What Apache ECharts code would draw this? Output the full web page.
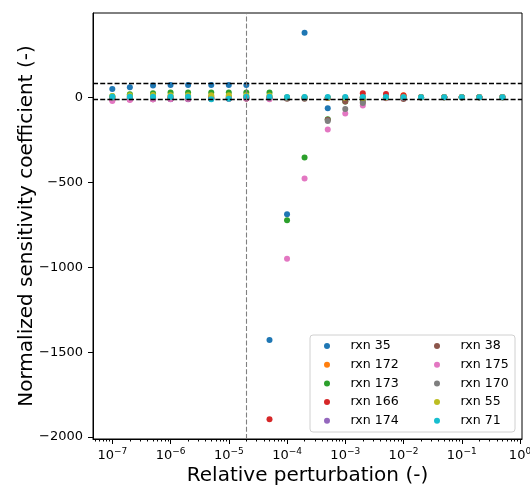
<!DOCTYPE html>
<html lang="en">

<head>
    <title>sensitivity</title>
    <meta http-equiv="content-type" content="text/html; charset=utf-8">
    <script src="https://cdn.jsdelivr.net/npm/echarts@6/dist/echarts.min.js"></script>
</head>

<style>
    * {
        margin: 0;
        padding: 0;
        box-sizing: border-box;
    }

    html,
    body {
        width: 100%;
        height: 100%;
        background: #fff;
    }

    #main {
        width: 530px;
        height: 486px;
    }
</style>

<body>
    <div id="main"></div>
</body>
<script>
    // relative perturbation (x)
    const perturbation = [1e-7, 2e-7, 5e-7, 1e-6, 2e-6, 5e-6, 1e-5, 2e-5, 5e-5, 1e-4, 2e-4,
        5e-4, 1e-3, 2e-3, 5e-3, 1e-2, 2e-2, 5e-2, 1e-1, 2e-1, 5e-1];

    // normalized sensitivity coefficient per reaction
    const rxn35 = [51, 61, 71, 75, 75, 75, 75, 75, -1428, -687, 383, -63, -6, 3, 2, 2, 2, 2, 2, 2, 2];
    const rxn172 = [3, 4, 5, 5, 5, 5, 5, 5, 5, 0, 0, -2, -4, 2, 2, 14, 2, 2, 2, 2, 2];
    const rxn173 = [8, 20, 26, 30, 30, 30, 30, 30, 30, -723, -353, -127, -22, -10, 1, 2, 2, 2, 2, 2, 2];
    const rxn166 = [-12, -10, -9, -8, -8, -6, -6, -5, -1896, -2, -1, 0, 0, 26, 22, 12, 4, 3, 3, 3, 3];
    const rxn174 = [-10, -9, -9, -9, -9, -6, -6, -5, -5, -2, -2, 0, 0, 0, 1, 2, 2, 2, 2, 2, 2];
    const rxn38 = [-5, -5, -5, -5, -5, -5, -5, -5, -5, -6, -6, -130, -23, -25, -2, -8, 1, 2, 2, 2, 2];
    const rxn175 = [-19, -14, -9, -8, -7, -6, -5, -5, -9, -949, -476, -188, -94, -46, -3, 0, 2, 2, 2, 2, 2];
    const rxn170 = [0, 2, 3, 3, 3, 3, 3, 3, 0, -3, -3, -137, -67, -32, 0, 1, 2, 2, 2, 2, 2];
    const rxn55 = [10, 14, 15, 14, 14, 14, 14, 14, 12, 2, 2, 0, 0, -2, 1, 2, 2, 2, 2, 2, 2];
    const rxn71 = [6, 6, 6, 6, 6, -9, -6, 6, 6, 4, 4, 4, 4, 4, 4, 3, 3, 3, 3, 3, 3];

    const names = ['rxn 35', 'rxn 172', 'rxn 173', 'rxn 166', 'rxn 174',
        'rxn 38', 'rxn 175', 'rxn 170', 'rxn 55', 'rxn 71'];
    const values = [rxn35, rxn172, rxn173, rxn166, rxn174, rxn38, rxn175, rxn170, rxn55, rxn71];
    const colors = ['#1f77b4', '#ff7f0e', '#2ca02c', '#d62728', '#9467bd',
        '#8c564b', '#e377c2', '#7f7f7f', '#bcbd22', '#17becf'];

    // axis limits, tick labels, reference lines
    const xMin = 4.66e-8, xMax = 1.0825;
    const yMin = -2012, yMax = 499;
    const xMajorTicks = [1e-7, 1e-6, 1e-5, 1e-4, 1e-3, 1e-2, 1e-1, 1];
    const yTicks = [-2000, -1500, -1000, -500, 0];
    const hLines = [82, -9];
    const vLine = 2e-5;

    const xMinorTicks = [];
    for (let e = -8; e <= 0; e++) {
        for (let m = 2; m <= 9; m++) xMinorTicks.push(m * Math.pow(10, e));
    }

    const font = 'DejaVu Sans';
    const myChart = echarts.init(document.getElementById('main'), null, { renderer: 'canvas' });

    const series = names.map((n, i) => ({
        name: n,
        type: 'scatter',
        symbol: 'circle',
        symbolSize: 6,
        itemStyle: { color: colors[i], opacity: 1 },
        data: perturbation.map((x, j) => [x, values[i][j]])
    }));

    const dash = [5, 2.2];
    series[0].markLine = {
        silent: true,
        symbol: 'none',
        label: { show: false },
        animation: false,
        data: hLines.map(v => ({ yAxis: v, lineStyle: { color: '#000', width: 1.4, type: dash } }))
            .concat([[
                { coord: [vLine, yMin], lineStyle: { color: '#808080', width: 1.1, type: dash } },
                { coord: [vLine, yMax] }
            ]])
    };

    const supFmt = v => {
        const e = Math.round(Math.log10(v));
        return '{b|10}{s|' + (e < 0 ? '\u2212' : '') + Math.abs(e) + '}';
    };

    const legendBase = {
        orient: 'vertical',
        padding: 0,
        itemWidth: 37,
        itemHeight: 6,
        itemGap: 4.7,
        icon: 'circle',
        textStyle: { fontFamily: font, fontSize: 12.6, color: '#000', lineHeight: 14 }
    };

    const option = {
        animation: false,
        color: colors,
        grid: {
            left: 93, right: 8, top: 13, bottom: 47,
            containLabel: false,
            outerBoundsMode: 'none',
            show: true, borderColor: '#000', borderWidth: 1
        },
        graphic: [{
            type: 'rect',
            z: 5,
            shape: { x: 310, y: 335, width: 205, height: 97, r: 3 },
            style: { fill: 'rgba(255,255,255,0.85)', stroke: '#d0d0d0', lineWidth: 1 }
        }],
        legend: [
            Object.assign({}, legendBase, { left: 324, top: 339, data: names.slice(0, 5), z: 10 }),
            Object.assign({}, legendBase, { left: 434, top: 339, data: names.slice(5), z: 10 })
        ],
        xAxis: [{
            type: 'log',
            logBase: 10,
            min: xMin,
            max: xMax,
            name: 'Relative perturbation (-)',
            nameLocation: 'middle',
            nameGap: 27,
            nameMoveOverlap: false,
            nameTextStyle: { fontFamily: font, fontSize: 20, color: '#000' },
            axisLine: { show: true, onZero: false, lineStyle: { color: '#000', width: 1 } },
            axisTick: { show: true, length: 5, customValues: xMajorTicks, lineStyle: { color: '#000' } },
            axisLabel: {
                customValues: xMajorTicks,
                margin: 8,
                formatter: supFmt,
                rich: {
                    b: { fontFamily: font, fontSize: 13, color: '#000' },
                    s: { fontFamily: font, fontSize: 9, color: '#000', padding: [0, 0, 8, 0] }
                }
            },
            splitLine: { show: false }
        }, {
            type: 'log',
            logBase: 10,
            min: xMin,
            max: xMax,
            position: 'bottom',
            axisLine: { show: false, onZero: false },
            axisTick: { show: true, length: 2.5, customValues: xMinorTicks, lineStyle: { color: '#000' } },
            axisLabel: { show: false },
            splitLine: { show: false }
        }],
        yAxis: {
            type: 'value',
            min: yMin,
            max: yMax,
            name: 'Normalized sensitivity coefficient (-)',
            nameLocation: 'middle',
            nameGap: 56,
            nameMoveOverlap: false,
            nameTextStyle: { fontFamily: font, fontSize: 20, color: '#000' },
            axisLine: { show: true, onZero: false, lineStyle: { color: '#000', width: 1 } },
            axisTick: { show: true, length: 5, customValues: yTicks, lineStyle: { color: '#000' } },
            axisLabel: {
                customValues: yTicks,
                margin: 10,
                fontFamily: font,
                fontSize: 13,
                color: '#000',
                formatter: v => (v < 0 ? '\u2212' + Math.abs(v) : String(v))
            },
            splitLine: { show: false }
        },
        series: series
    };

    myChart.setOption(option);
</script>

</html>
